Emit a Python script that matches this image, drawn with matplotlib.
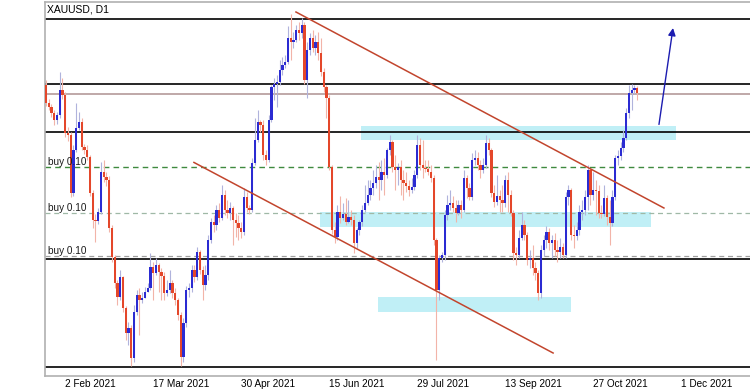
import numpy as np
import matplotlib.pyplot as plt

plt.rcParams['font.family'] = ['Liberation Sans', 'DejaVu Sans']

# XAUUSD daily candles (open of each bar = previous close)
first_open = 1866.5
close = [1853.9, 1851.1, 1846.9, 1842.0, 1845.5, 1863.0, 1859.5, 1832.9, 1831.5, 1790.9,
         1821.0, 1836.4, 1840.6, 1823.1, 1821.0, 1816.1, 1790.9, 1772.0, 1771.3, 1777.6,
         1805.6, 1802.1, 1800.0, 1766.4, 1746.1, 1727.9, 1718.1, 1732.1, 1710.4, 1692.9,
         1696.4, 1675.4, 1707.6, 1719.5, 1716.0, 1717.4, 1721.6, 1724.4, 1739.1, 1734.9,
         1740.5, 1735.6, 1732.8, 1720.9, 1723.0, 1727.9, 1720.9, 1716.0, 1705.5, 1676.1,
         1699.9, 1723.0, 1724.4, 1737.0, 1732.1, 1749.6, 1737.0, 1726.5, 1733.5, 1758.0,
         1770.6, 1768.5, 1779.0, 1773.4, 1789.5, 1779.0, 1776.9, 1780.4, 1772.0, 1769.9,
         1766.4, 1763.6, 1788.1, 1780.4, 1779.0, 1811.9, 1828.0, 1840.6, 1838.5, 1817.5,
         1814.0, 1842.0, 1865.1, 1867.2, 1868.6, 1877.0, 1880.5, 1882.6, 1899.4, 1896.6,
         1898.0, 1905.0, 1902.9, 1908.5, 1870.0, 1891.0, 1899.4, 1892.4, 1896.6, 1888.9,
         1875.6, 1865.1, 1857.4, 1809.1, 1765.0, 1760.1, 1777.6, 1773.4, 1776.2, 1770.6,
         1774.1, 1772.0, 1755.9, 1765.0, 1770.6, 1779.0, 1783.9, 1789.5, 1794.4, 1797.9,
         1802.1, 1800.0, 1805.6, 1803.5, 1821.0, 1826.6, 1809.1, 1807.0, 1809.1, 1800.0,
         1797.9, 1795.8, 1793.0, 1795.1, 1803.5, 1824.5, 1810.5, 1808.4, 1807.6, 1805.6,
         1801.4, 1758.0, 1723.0, 1745.4, 1747.5, 1775.5, 1782.5, 1783.9, 1780.4, 1776.9,
         1782.5, 1779.0, 1801.4, 1794.4, 1788.1, 1814.0, 1815.4, 1810.5, 1807.0, 1810.5,
         1825.9, 1821.0, 1790.9, 1784.6, 1788.8, 1786.0, 1783.9, 1800.0, 1789.5, 1776.9,
         1748.9, 1747.5, 1759.4, 1768.5, 1761.5, 1744.0, 1745.4, 1738.4, 1734.9, 1720.9,
         1751.0, 1758.0, 1763.6, 1755.9, 1758.0, 1751.0, 1749.6, 1753.1, 1747.5, 1788.1,
         1793.0, 1761.5, 1760.8, 1765.0, 1777.6, 1779.0, 1788.1, 1807.0, 1789.5, 1793.0,
         1792.2, 1776.9, 1776.1, 1787.4, 1774.1, 1769.9, 1788.1, 1815.4, 1816.8, 1822.4,
         1829.4, 1846.9, 1860.9, 1863.0, 1864.4, 1860.9]
high = [1870.0, 1856.7, 1853.2, 1849.0, 1847.6, 1875.6, 1871.4, 1861.6, 1837.1, 1833.6,
        1824.5, 1853.9, 1847.6, 1843.4, 1825.2, 1824.5, 1817.5, 1793.0, 1776.2, 1780.4,
        1812.6, 1814.0, 1805.6, 1802.8, 1768.5, 1747.5, 1730.0, 1737.0, 1732.8, 1711.8,
        1700.6, 1698.5, 1712.5, 1723.0, 1724.4, 1721.6, 1725.1, 1727.9, 1748.9, 1742.6,
        1745.4, 1741.9, 1738.4, 1735.6, 1730.0, 1737.0, 1730.0, 1724.4, 1717.4, 1707.6,
        1703.4, 1725.8, 1727.9, 1740.5, 1740.5, 1753.1, 1751.0, 1739.8, 1740.5, 1761.5,
        1773.4, 1775.5, 1782.5, 1783.9, 1796.5, 1793.0, 1786.0, 1784.6, 1781.8, 1776.9,
        1775.5, 1770.6, 1794.4, 1791.6, 1782.5, 1815.4, 1843.4, 1849.0, 1842.0, 1842.0,
        1821.0, 1845.5, 1866.5, 1871.4, 1873.5, 1884.0, 1886.1, 1887.5, 1907.8, 1916.2,
        1903.6, 1908.5, 1910.6, 1913.4, 1910.6, 1896.6, 1902.9, 1905.0, 1901.5, 1903.6,
        1899.4, 1878.4, 1866.5, 1859.5, 1810.5, 1770.6, 1782.5, 1788.8, 1783.9, 1787.4,
        1786.0, 1779.0, 1775.5, 1766.4, 1772.0, 1782.5, 1796.5, 1800.0, 1800.0, 1807.0,
        1810.5, 1812.6, 1814.0, 1815.4, 1822.4, 1831.5, 1828.0, 1817.5, 1811.9, 1814.0,
        1807.0, 1805.6, 1800.0, 1801.4, 1807.0, 1831.5, 1829.4, 1828.0, 1814.0, 1814.0,
        1810.5, 1803.5, 1759.4, 1747.5, 1749.6, 1779.0, 1789.5, 1793.0, 1788.8, 1786.0,
        1786.0, 1786.0, 1807.0, 1803.5, 1797.9, 1818.9, 1821.0, 1819.6, 1814.0, 1815.4,
        1831.5, 1829.4, 1822.4, 1796.5, 1803.5, 1793.0, 1796.5, 1803.5, 1805.6, 1793.0,
        1779.0, 1753.1, 1765.0, 1777.6, 1772.0, 1763.6, 1751.0, 1754.5, 1742.6, 1737.0,
        1754.5, 1761.5, 1767.8, 1766.4, 1761.5, 1762.9, 1758.0, 1759.4, 1755.9, 1791.6,
        1796.5, 1794.4, 1768.5, 1770.6, 1782.5, 1786.0, 1793.0, 1810.5, 1808.4, 1805.6,
        1800.0, 1796.5, 1782.5, 1796.5, 1789.5, 1786.0, 1793.0, 1817.5, 1821.0, 1826.6,
        1835.0, 1850.4, 1866.5, 1867.2, 1866.5, 1865.8]
low = [1851.8, 1849.0, 1844.1, 1838.5, 1839.2, 1843.4, 1856.7, 1830.1, 1827.3, 1788.1,
       1788.8, 1819.6, 1835.0, 1821.0, 1818.2, 1814.0, 1788.8, 1766.4, 1756.6, 1769.2,
       1776.2, 1798.6, 1795.8, 1763.6, 1742.6, 1724.4, 1712.5, 1716.0, 1707.6, 1688.0,
       1684.5, 1669.8, 1672.6, 1705.5, 1691.5, 1713.9, 1718.8, 1721.6, 1723.0, 1716.0,
       1733.5, 1721.6, 1716.0, 1716.0, 1718.8, 1720.9, 1717.4, 1712.5, 1702.0, 1669.8,
       1672.6, 1697.1, 1718.1, 1721.6, 1728.6, 1730.0, 1734.2, 1716.0, 1723.0, 1730.0,
       1755.9, 1763.6, 1765.0, 1770.6, 1772.0, 1775.5, 1773.4, 1772.0, 1754.5, 1760.1,
       1758.0, 1759.4, 1761.5, 1777.6, 1776.2, 1777.6, 1810.5, 1826.6, 1833.6, 1814.0,
       1810.5, 1812.6, 1840.6, 1856.0, 1851.1, 1866.5, 1873.5, 1878.4, 1881.2, 1884.0,
       1892.4, 1896.6, 1898.0, 1899.4, 1867.2, 1857.4, 1887.5, 1889.6, 1887.5, 1884.0,
       1872.8, 1861.6, 1843.4, 1807.0, 1762.2, 1755.9, 1758.0, 1769.9, 1772.0, 1768.5,
       1769.9, 1768.5, 1748.9, 1752.4, 1761.5, 1767.8, 1777.6, 1782.5, 1786.0, 1789.5,
       1794.4, 1786.0, 1793.0, 1789.5, 1801.4, 1817.5, 1805.6, 1793.0, 1796.5, 1789.5,
       1786.0, 1791.6, 1788.8, 1790.9, 1793.0, 1801.4, 1807.0, 1801.4, 1805.6, 1803.5,
       1798.6, 1754.5, 1674.0, 1716.0, 1742.6, 1744.0, 1772.0, 1779.0, 1777.6, 1770.6,
       1775.5, 1773.4, 1777.6, 1787.4, 1786.0, 1786.0, 1810.5, 1807.0, 1801.4, 1804.9,
       1808.4, 1817.5, 1788.1, 1781.1, 1782.5, 1777.6, 1777.6, 1781.1, 1777.6, 1774.8,
       1744.0, 1740.5, 1745.4, 1758.0, 1758.0, 1740.5, 1738.4, 1733.5, 1730.0, 1716.0,
       1717.4, 1746.8, 1752.4, 1751.0, 1745.4, 1746.8, 1742.6, 1745.4, 1745.4, 1745.4,
       1782.5, 1758.0, 1752.4, 1758.0, 1761.5, 1772.0, 1775.5, 1779.0, 1782.5, 1786.0,
       1775.5, 1773.4, 1773.4, 1774.8, 1768.5, 1754.5, 1767.8, 1786.0, 1810.5, 1814.0,
       1819.6, 1828.0, 1843.4, 1849.0, 1860.2, 1856.0]

# time axis labels (bar index where each label starts)
date_labels = ['2 Feb 2021', '17 Mar 2021', '30 Apr 2021', '15 Jun 2021',
               '29 Jul 2021', '13 Sep 2021', '27 Oct 2021', '1 Dec 2021']
date_bars = [7, 39, 71, 103, 135, 167, 199, 231]

# drawn objects
black_levels = [1912.5, 1867.0, 1833.6, 1744.5, 1669.3]
brown_level = 1860.4
buy_levels = [1808.9, 1776.9, 1747.0]
buy_text = 'buy 0.10'
zones = [(114.5, 229.1, 1828.0, 1838.0),
         (99.6, 220.0, 1767.1, 1777.8),
         (120.7, 190.9, 1707.6, 1717.9)]
trend_upper = ([90.9, 224.7], [1917.6, 1780.4])
trend_lower = ([53.8, 184.4], [1812.3, 1678.9])
arrow_from = (222.9, 1838.9)
arrow_to = (228.0, 1906.4)

close = np.array(close)
high = np.array(high)
low = np.array(low)
opens = np.concatenate([[first_open], close[:-1]])
high = np.maximum(high, np.maximum(opens, close))
low = np.minimum(low, np.minimum(opens, close))
x = np.arange(len(close))
bull = close >= opens

fig = plt.figure(figsize=(7.5, 3.92), dpi=100)
ax = fig.add_axes([45 / 750, 16 / 392, 705 / 750, 374 / 392])

# zones in the background
for x0, x1, y0, y1 in zones:
    ax.fill_between([x0, x1], y0, y1, color='#c0eff6', lw=0, zorder=0.5)

for lv in black_levels:
    ax.axhline(lv, color='black', lw=1.2, zorder=1)
ax.axhline(brown_level, color='#b49a9a', lw=1.2, zorder=1)
ax.axhline(buy_levels[0], color='#3f8a3f', lw=1.0, ls=(0, (4, 3)), zorder=1)
ax.axhline(buy_levels[1], color='#9fb8a6', lw=0.9, ls=(0, (4, 3)), zorder=1)
ax.axhline(buy_levels[2], color='#a0a0a0', lw=0.9, ls=(0, (4, 3)), zorder=1)

# candles
wick_col = np.where(bull, '#b0b3dc', '#f2b4a8')
body_col = np.where(bull, '#2b2bd2', '#e4472a')
ax.vlines(x, low, high, colors=wick_col, lw=0.8, zorder=2)
h = close - opens
h = np.where(np.abs(h) < 0.7, 0.7, h)
ax.bar(x, h, bottom=opens, width=0.85, color=body_col, lw=0, zorder=3)

# trend lines and arrow
ax.plot(*trend_upper, color='#c2452d', lw=1.1, zorder=4)
ax.plot(*trend_lower, color='#c2452d', lw=1.1, zorder=4)
ax.annotate('', xy=arrow_to, xytext=arrow_from,
            arrowprops=dict(arrowstyle='-|>', color='#1c1cb0', lw=1.0,
                            mutation_scale=11, shrinkA=0, shrinkB=0), zorder=4)

# buy labels sit just above their dashed lines
for lv in buy_levels:
    ax.text(0.7, lv + 3.4, buy_text, fontsize=7.2, color='#1a1a1a',
            va='center', ha='left', zorder=5)

fig.text(47 / 750, 1 - 9 / 392, 'XAUUSD, D1', fontsize=7.5, color='#000000',
         va='center', ha='left')

ax.set_xlim(-0.36, 256)
ax.set_ylim(1662.8, 1924.6)
ax.set_yticks([])
ax.set_xticks(date_bars, date_labels)
for lab in ax.get_xticklabels():
    lab.set_ha('left')
ax.tick_params(axis='x', length=0, pad=2.5, labelsize=7.2, labelcolor='#000000')
for side in ['top', 'left', 'bottom']:
    ax.spines[side].set_color('#b0b0b0')
    ax.spines[side].set_linewidth(1.2)
ax.spines['right'].set_visible(False)

fig.savefig('out.png', dpi=100)
